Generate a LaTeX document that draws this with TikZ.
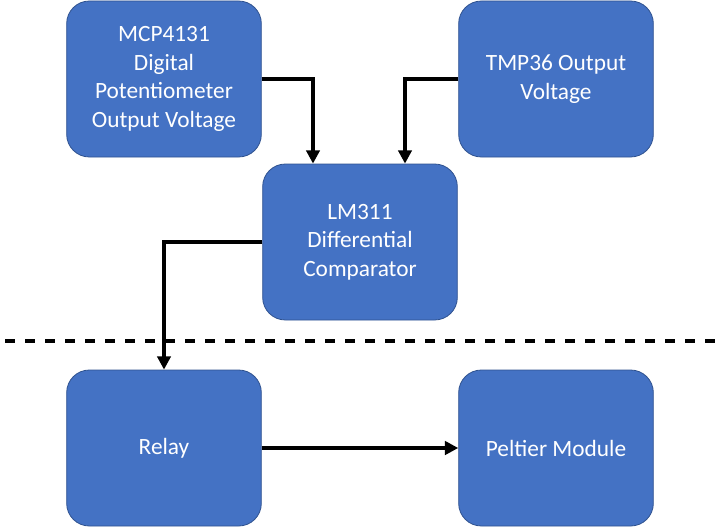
\documentclass[tikz,border=0pt]{standalone}
\usepackage{fontspec}
\setmainfont{Carlito}
\usetikzlibrary{arrows.meta}
\definecolor{boxblue}{HTML}{4472C4}
\definecolor{boxedge}{HTML}{2F528F}
\tikzset{
  block/.style={rectangle,rounded corners=17pt,fill=boxblue,draw=boxedge,line width=0.6pt,
    minimum width=146pt,minimum height=117pt,text=white,align=center,
    font=\fontsize{17.5}{21.5}\selectfont},
  link/.style={line width=2.5pt,-{Triangle[length=10pt,width=10pt]}}
}
\begin{document}
\begin{tikzpicture}[x=0.75pt,y=-0.75pt]
\useasboundingbox(0,0)rectangle(720,528);
\node[block](mcp)at(164,79){MCP4131\\Digital\\Potentiometer\\Output Voltage};
\node[block](tmp)at(556,79){TMP36 Output\\Voltage};
\node[block](lm)at(360,242){LM311\\Differential\\Comparator};
\node[block](relay)at(164,448){Relay};
\node[block](peltier)at(556,448){Peltier Module};
\coordinate(inA)at(313,0);
\coordinate(inB)at(405,0);
\draw[link](mcp.east)-|(inA|-lm.north);
\draw[link](tmp.west)-|(inB|-lm.north);
\draw[link](lm.west)-|(relay.north);
\draw[link](relay.east)--(peltier.west);
\draw[line width=2.8pt,dash pattern=on 7.5pt off 7.5pt](5,341)--(720,341);
\end{tikzpicture}
\end{document}
